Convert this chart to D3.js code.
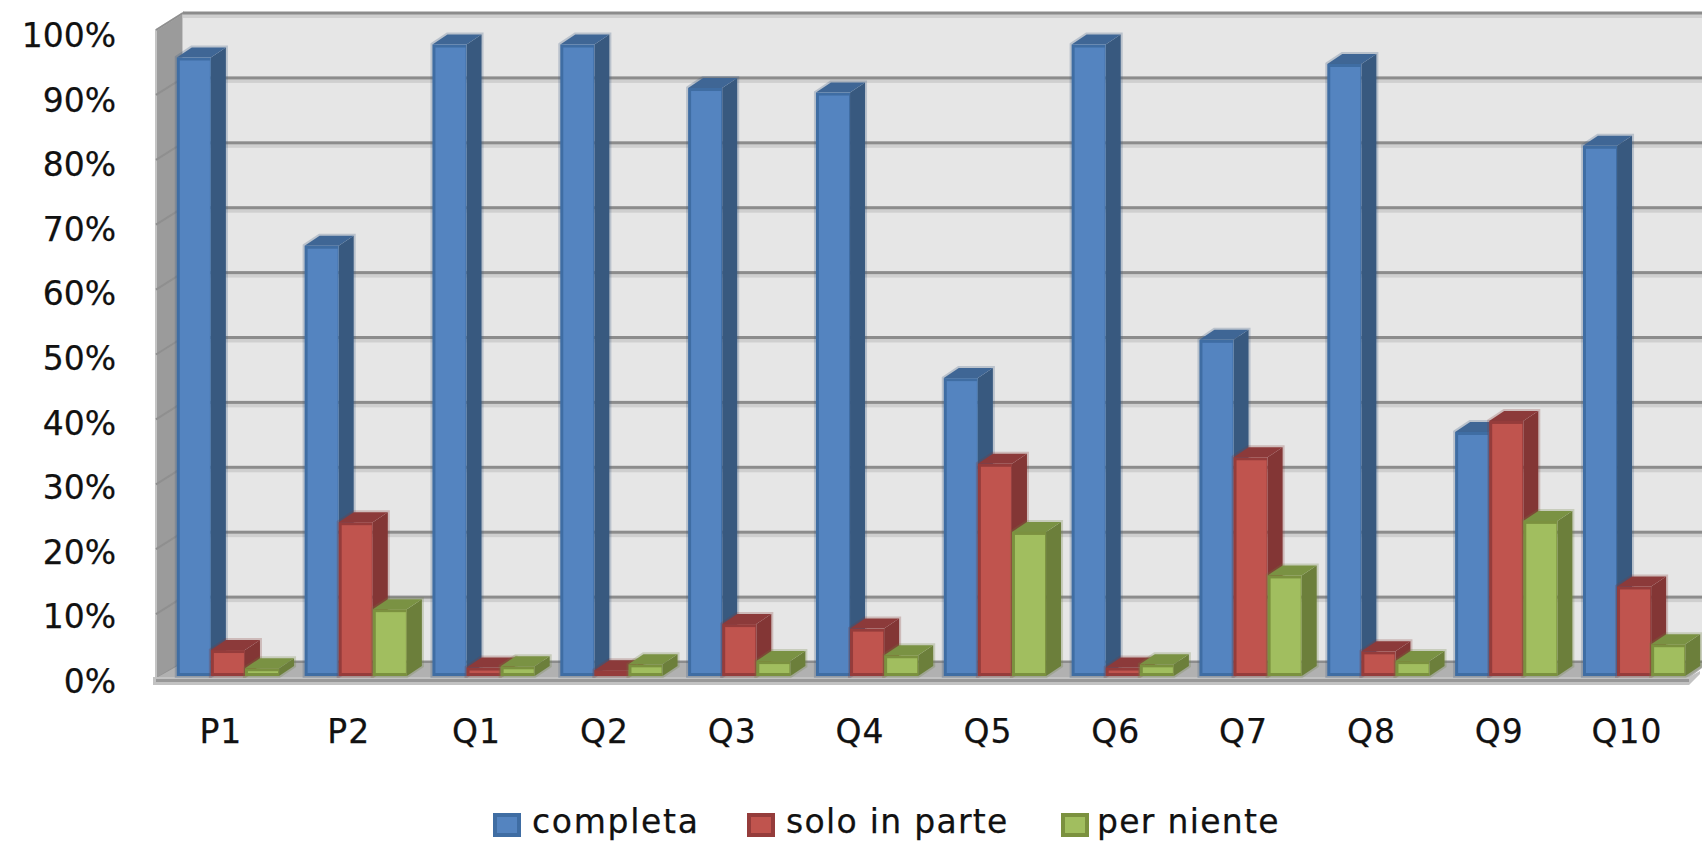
<!DOCTYPE html>
<html>
<head>
<meta charset="utf-8">
<script src="https://cdn.jsdelivr.net/npm/d3@7"></script>
<style>
  html, body { margin: 0; background: #fff; overflow: hidden; }
  text { font-family: "DejaVu Sans", sans-serif; fill: #111; stroke: #111; stroke-width: 0.25px; }
</style>
</head>
<body>
<div id="chart"></div>
<script>
// values (percent)
var categories = ["P1","P2","Q1","Q2","Q3","Q4","Q5","Q6","Q7","Q8","Q9","Q10"];
var seriesNames = ["completa","solo in parte","per niente"];
var completa = [95.3, 66.3, 97.3, 97.3, 90.6, 89.9, 45.9, 97.3, 51.8, 94.3, 37.6, 81.7];
var soloInParte = [4, 23.7, 1.3, 0.9, 8, 7.3, 32.7, 1.3, 33.7, 3.8, 39.3, 13.8];
var perNiente = [1.2, 10.3, 1.5, 1.8, 2.3, 3.2, 22.2, 1.8, 15.5, 2.3, 23.9, 4.9];
var yTicks = [0,10,20,30,40,50,60,70,80,90,100];

var allSeries = [completa, soloInParte, perNiente];

// front, edge, side, top
var shades = [
  ["#5484c0","#3f6da3","#38597f","#3f6695"],
  ["#c0544e","#953c3b","#833635","#8c3a3a"],
  ["#a1be5f","#7b913f","#6c7f3b","#7a9243"]
];

var width = 1702, height = 841;
var svg = d3.select("#chart").append("svg").attr("width", width).attr("height", height);

var x = d3.scaleBand().domain(categories).range([164, 1698]).paddingInner(0.2).paddingOuter(0.1);
var xSeries = d3.scaleBand().domain(d3.range(3)).range([0, x.bandwidth()]);
var yBars = d3.scaleLinear().domain([0,100]).range([676, 27]);
var yBack = d3.scaleLinear().domain([0,100]).range([662, 13]);
var yLabel = d3.scaleLinear().domain([0,100]).range([693, 47]);

var wallLeft = 183, sideLeft = 156;
var depthX = 15, depthY = 10;

function poly(pts) { return "M" + pts.join("L") + "Z"; }

// side wall
svg.append("path")
  .attr("d", poly([[sideLeft,30],[wallLeft,13],[wallLeft,662],[sideLeft,680]]))
  .attr("fill", "#9b9b9b").attr("stroke", "#c4c4c4").attr("stroke-width", 2);

// back wall
svg.append("rect").attr("x", wallLeft).attr("y", yBack(100))
  .attr("width", width - wallLeft).attr("height", yBack(0) - yBack(100))
  .attr("fill", "#e6e6e6");

// gridlines
svg.append("g").selectAll("rect.light").data(yTicks).join("rect")
  .attr("x", wallLeft).attr("y", d => yBack(d) + 1)
  .attr("width", width - wallLeft).attr("height", 4).attr("fill", "#cfcfcf");
svg.append("g").selectAll("rect").data(yTicks).join("rect")
  .attr("x", wallLeft).attr("y", d => yBack(d) - 1.5)
  .attr("width", width - wallLeft).attr("height", 3).attr("fill", "#8c8c8c");
svg.append("g").selectAll("line").data(yTicks).join("line")
  .attr("x1", wallLeft).attr("x2", sideLeft)
  .attr("y1", d => yBack(d)).attr("y2", d => yBack(d) + 17)
  .attr("stroke", "#8f8f8f").attr("stroke-width", 2);

// floor
svg.append("path")
  .attr("d", poly([[wallLeft,663],[width,663],[width,668],[1689,678],[sideLeft,678]]))
  .attr("fill", "#b1b1b1");
svg.append("path")
  .attr("d", poly([[153,677],[1689,677],[1700,671],[1700,674],[1689,685],[153,685]]))
  .attr("fill", "#c2c2c2");
svg.append("rect").attr("x", sideLeft).attr("y", 679).attr("width", 1533).attr("height", 3).attr("fill", "#989898");

// bars, later series sit in front of earlier ones
allSeries.forEach(function (values, s) {
  var g = svg.append("g").selectAll("g").data(values).join("g")
    .attr("transform", (d, i) => "translate(" + (x(categories[i]) + xSeries(s)) + ",0)");
  var w = xSeries.bandwidth(), y0 = yBars(0);

  // soft halo round the silhouette
  g.append("path")
    .attr("d", d => poly([[0,yBars(d)],[depthX,yBars(d)-depthY],[w+depthX,yBars(d)-depthY],[w+depthX,y0-depthY],[w,y0],[0,y0]]))
    .attr("fill", "none").attr("stroke", shades[s][2]).attr("stroke-opacity", 0.25).attr("stroke-width", 4);
  g.append("path")
    .attr("d", d => poly([[w,yBars(d)],[w+depthX,yBars(d)-depthY],[w+depthX,y0-depthY],[w,y0]]))
    .attr("fill", shades[s][2]);
  g.append("path")
    .attr("d", d => poly([[0,yBars(d)],[depthX,yBars(d)-depthY],[w+depthX,yBars(d)-depthY],[w,yBars(d)]]))
    .attr("fill", shades[s][3]);
  g.append("rect")
    .attr("y", d => yBars(d)).attr("width", w).attr("height", d => y0 - yBars(d))
    .attr("fill", shades[s][1]);
  g.append("rect")
    .attr("x", 3).attr("y", d => yBars(d) + 3)
    .attr("width", w - 4).attr("height", d => Math.max(0, y0 - yBars(d) - 6))
    .attr("fill", shades[s][0]);
});

// y labels
svg.append("g").selectAll("text").data(yTicks).join("text")
  .attr("x", 116).attr("y", d => yLabel(d))
  .attr("text-anchor", "end")
  .style("font-size", "33px")
  .text(d => d + "%");

// x labels
svg.append("g").selectAll("text").data(categories).join("text")
  .attr("x", d => x(d) + x.bandwidth() / 2 - 7).attr("y", 743)
  .attr("text-anchor", "middle")
  .style("font-size", "33px").style("letter-spacing", "1px")
  .text(d => d);

// legend
var legendSwatch = [493, 747, 1061];
var legendText = [532, 786, 1097];
var legendSpacing = [1.7, 1.3, 1.3];
var legend = svg.append("g").selectAll("g").data(seriesNames).join("g");
legend.append("rect")
  .attr("x", (d, i) => legendSwatch[i] + 2).attr("y", 815)
  .attr("width", 24).attr("height", 20)
  .attr("fill", (d, i) => shades[i][0])
  .attr("stroke", (d, i) => shades[i][1]).attr("stroke-width", 4);
legend.append("text")
  .attr("x", (d, i) => legendText[i]).attr("y", 833)
  .style("font-size", "33px").style("letter-spacing", (d, i) => legendSpacing[i] + "px")
  .text(d => d);
</script>
</body>
</html>
